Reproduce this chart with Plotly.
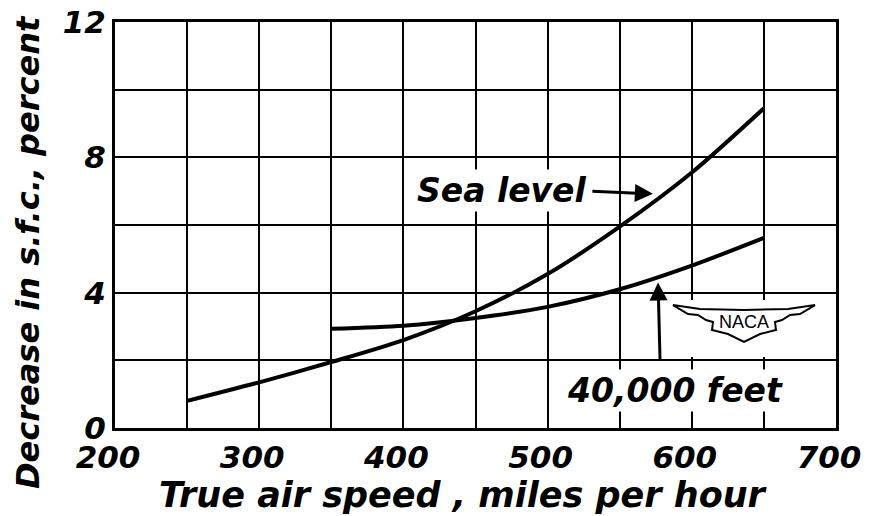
import plotly.graph_objects as go

# Sea level curve
sea_speed = [250, 300, 350, 400, 450, 500, 550, 600, 650]
sea_decrease = [0.8, 1.35, 1.95, 2.6, 3.45, 4.55, 5.95, 7.55, 9.45]

# 40,000 feet curve
alt_speed = [350, 400, 450, 500, 550, 600, 650]
alt_decrease = [2.93, 3.02, 3.25, 3.58, 4.1, 4.8, 5.62]

x_ticks = [200, 300, 400, 500, 600, 700]
y_ticks = [0, 4, 8, 12]

FONT = "DejaVu Sans"
bold_italic = dict(family=FONT, color="black", weight="bold", style="italic")

# plot box in pixels (used only to place the NACA badge)
L, R, T, B = 115, 836, 22, 428


def px_to_data(px, py):
    return 200 + (px - L) * 500 / (R - L), (B - py) * 12 / (B - T)


fig = go.Figure()

line_style = dict(color="black", width=4, shape="spline", smoothing=0.8)
fig.add_trace(go.Scatter(x=sea_speed, y=sea_decrease, mode="lines", line=line_style, name="Sea level"))
fig.add_trace(go.Scatter(x=alt_speed, y=alt_decrease, mode="lines", line=line_style, name="40,000 feet"))

axis_common = dict(
    showline=True,
    mirror=True,
    linecolor="black",
    linewidth=3,
    showgrid=True,
    gridcolor="black",
    gridwidth=2,
    zeroline=False,
    ticks="",
    automargin=False,
    tickfont=dict(size=31, **bold_italic),
)

fig.update_xaxes(
    range=[200, 700],
    tickvals=x_ticks,
    ticktext=[str(v) for v in x_ticks],
    ticklabelshift=-7,
    minor=dict(dtick=50, showgrid=True, gridcolor="black", gridwidth=2),
    **axis_common,
)
fig.update_yaxes(
    range=[0, 12],
    tickvals=y_ticks,
    ticktext=[str(v) for v in y_ticks],
    minor=dict(dtick=2, showgrid=True, gridcolor="black", gridwidth=2),
    **axis_common,
)

# Axis titles
fig.add_annotation(x=0.483, y=-0.165, xref="paper", yref="paper", xanchor="center", yanchor="middle",
                   text="True air speed , miles per hour",
                   showarrow=False, font=dict(size=35, **bold_italic))
fig.add_annotation(x=-0.121, y=0.433, xref="paper", yref="paper", xanchor="center", yanchor="middle",
                   text="Decrease in s.f.c., percent",
                   textangle=-90, showarrow=False, font=dict(size=32, **bold_italic))

# Curve labels with white backing so the grid breaks behind them
fig.add_annotation(x=468, y=7.03, text="Sea level", showarrow=False,
                   font=dict(size=33, **bold_italic), bgcolor="white")
fig.add_annotation(x=573, y=6.92, ax=530, ay=7.0, axref="x", ayref="y", text="",
                   showarrow=True, arrowhead=2, arrowsize=1.2, arrowwidth=3, arrowcolor="black")
fig.add_annotation(x=588, y=1.12, text="40,000 feet", showarrow=False,
                   font=dict(size=33, **bold_italic), bgcolor="white")
fig.add_annotation(x=576.6, y=4.3, ax=578, ay=1.95, axref="x", ayref="y", text="",
                   showarrow=True, arrowhead=2, arrowsize=1.2, arrowwidth=3, arrowcolor="black")

# NACA badge: white patch over the grid, winged outline and lettering
x0, y0 = px_to_data(668, 300)
x1, y1 = px_to_data(830, 357)
fig.add_shape(type="rect", x0=x0, x1=x1, y0=y1, y1=y0, xref="x", yref="y",
              fillcolor="white", line=dict(width=0), layer="between")

wing_px = [(673, 305), (700, 309), (744, 310), (788, 309), (815, 305),
           (800, 314), (790, 315), (782, 320), (775, 322), (776, 330), (760, 334),
           (744, 342), (728, 334), (712, 330), (713, 322), (706, 320), (698, 315), (688, 314)]
pts = [px_to_data(px, py) for px, py in wing_px]
path = "M " + " L ".join(f"{x:.2f},{y:.3f}" for x, y in pts) + " Z"
fig.add_shape(type="path", xref="x", yref="y", path=path,
              line=dict(color="black", width=2), fillcolor="white", layer="above")
nx, ny = px_to_data(744, 322)
fig.add_annotation(x=nx, y=ny, text="NACA", showarrow=False,
                   font=dict(family="Liberation Sans", size=18, color="black"))

fig.update_layout(
    width=873,
    height=516,
    margin=dict(l=L, r=873 - R, t=T, b=516 - B),
    paper_bgcolor="white",
    plot_bgcolor="white",
    showlegend=False,
)

# drop the browser's default body margin so the figure sits at the window corner
fig.write_html("out.html", config={"displayModeBar": False},
               post_script="document.body.style.margin='0';")
